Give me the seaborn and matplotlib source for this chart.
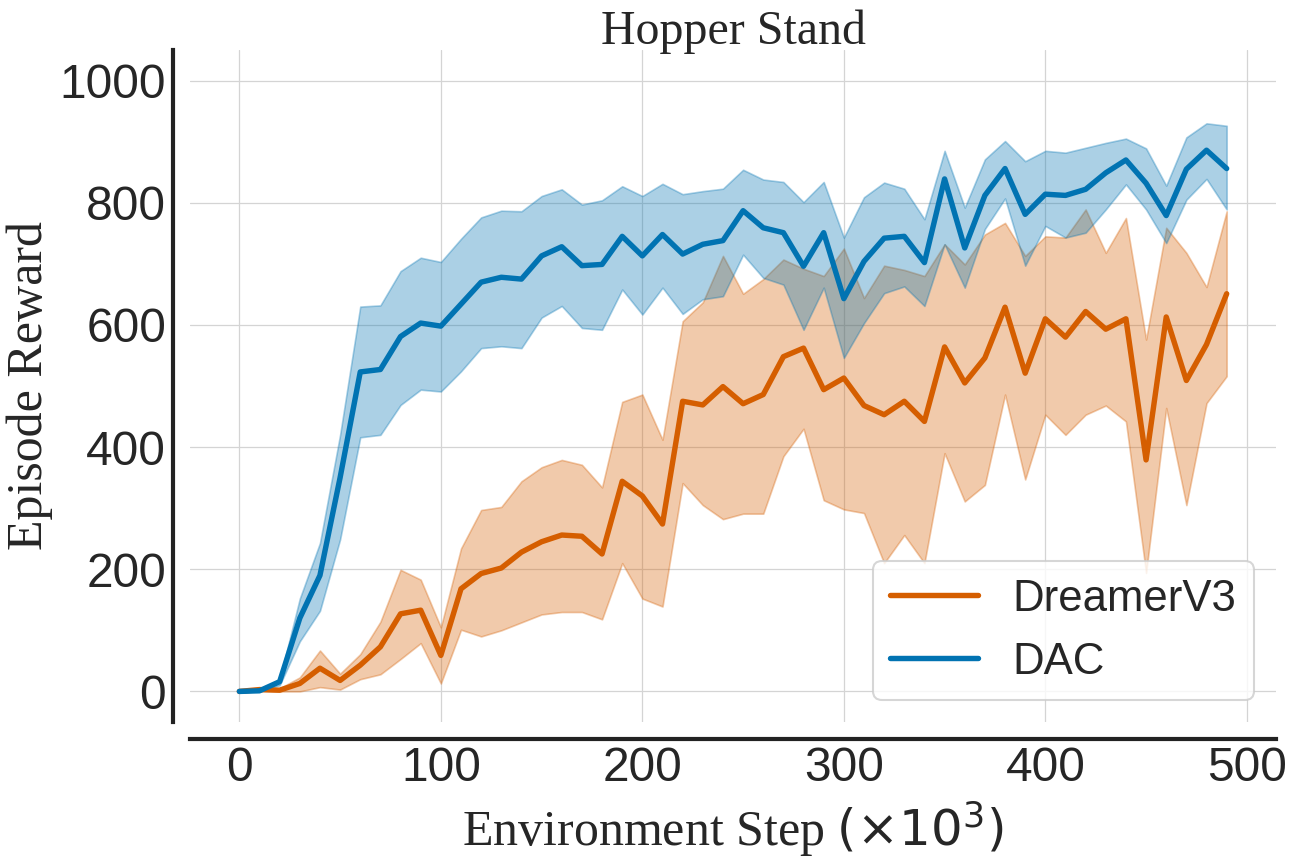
import pandas as pd
import seaborn as sns
from matplotlib import pyplot as plt

# environment steps (x 10^3)
steps = list(range(0, 500, 10))

dreamer_mean = [0, 3, 2, 13, 38, 18, 43, 73, 127, 133,
                59, 168, 193, 202, 228, 245, 256, 254, 225, 344,
                320, 274, 475, 469, 499, 471, 486, 548, 562, 494,
                513, 468, 453, 475, 442, 564, 505, 546, 629, 521,
                610, 580, 622, 593, 610, 379, 613, 509, 568, 651]
dreamer_low = [0, 1, 0, 0, 7, 3, 20, 28, 53, 79,
               13, 101, 90, 100, 113, 126, 130, 130, 118, 210,
               152, 139, 341, 305, 282, 291, 291, 385, 430, 313,
               298, 292, 210, 256, 210, 390, 311, 338, 486, 347,
               453, 420, 453, 468, 442, 194, 464, 305, 472, 516]
dreamer_high = [0, 4, 5, 23, 67, 29, 61, 114, 199, 183,
                105, 234, 297, 302, 344, 367, 379, 371, 334, 474,
                486, 412, 606, 637, 713, 651, 675, 707, 692, 680,
                725, 644, 697, 690, 680, 732, 699, 748, 767, 713,
                745, 743, 789, 718, 775, 576, 759, 718, 662, 786]

dac_mean = [0, 1, 16, 120, 190, 350, 523, 527, 581, 603,
            598, 634, 670, 678, 675, 713, 728, 697, 699, 745,
            713, 748, 716, 732, 738, 787, 759, 751, 696, 751,
            643, 704, 742, 745, 702, 839, 726, 812, 856, 781,
            814, 812, 822, 849, 870, 832, 779, 855, 886, 856]
dac_low = [0, 0, 10, 82, 132, 249, 416, 420, 469, 494,
           491, 524, 562, 565, 562, 612, 631, 595, 592, 658,
           617, 661, 618, 642, 647, 715, 677, 666, 592, 661,
           546, 603, 652, 663, 631, 732, 661, 757, 807, 697,
           762, 743, 751, 789, 830, 789, 734, 805, 839, 789]
dac_high = [0, 2, 20, 152, 243, 420, 630, 632, 688, 710,
            703, 741, 776, 787, 786, 811, 822, 797, 804, 827,
            811, 831, 814, 819, 823, 854, 838, 834, 801, 834,
            743, 809, 833, 823, 773, 885, 792, 871, 901, 868,
            885, 882, 890, 898, 905, 889, 828, 907, 930, 926]

methods = ['DreamerV3', 'DAC']
colors = {'DreamerV3': '#d55e00', 'DAC': '#0173b2'}

sns.set_theme(style='whitegrid', palette='colorblind')
plt.rcParams['font.family'] = ['Liberation Sans', 'DejaVu Sans']
plt.rcParams['mathtext.fontset'] = 'dejavusans'

frames = []
for name, mean in zip(methods, [dreamer_mean, dac_mean]):
    frames.append(pd.DataFrame({'step': steps, 'reward': mean, 'method': name}))
df = pd.concat(frames, ignore_index=True)

fig, ax = plt.subplots(figsize=(8.64, 5.76), dpi=150)
fig.subplots_adjust(left=0.1466, right=0.9846, bottom=0.1644, top=0.9421)

for name, lo, hi in zip(methods, [dreamer_low, dac_low], [dreamer_high, dac_high]):
    ax.fill_between(steps, lo, hi, color=colors[name], alpha=0.33, lw=0.8)

sns.lineplot(data=df, x='step', y='reward', hue='method', hue_order=methods,
             palette=colors, lw=2.6, ax=ax)

ax.set_ylim(-50, 1050)
ax.set_xticks(range(0, 501, 100))
ax.set_yticks(range(0, 1001, 200))
ax.tick_params(labelsize=23, colors='#262626', length=0, pad=3.5)
ax.grid(color='#d4d4d4', lw=0.6)

serif = ['Liberation Serif', 'DejaVu Serif']
ax.set_title('Hopper Stand', family=serif, fontsize=23, pad=3)
ax.set_xlabel(r'Environment Step $(\times 10^3)$', family=serif, fontsize=24, labelpad=4)
ax.set_ylabel('Episode Reward', family=serif, fontsize=24, labelpad=3)

ax.legend(loc='lower right', fontsize=21, title=None)

sns.despine(ax=ax, offset=8)
for side in ['left', 'bottom']:
    ax.spines[side].set_color('#222222')
    ax.spines[side].set_linewidth(2.0)

fig.savefig('out.png', dpi=150)
